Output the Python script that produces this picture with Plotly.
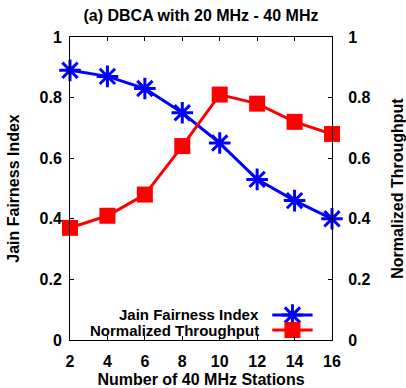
import plotly.graph_objects as go

stations = [2, 4, 6, 8, 10, 12, 14, 16]
jain = [0.89, 0.87, 0.83, 0.75, 0.65, 0.53, 0.46, 0.40]
throughput = [0.37, 0.41, 0.48, 0.64, 0.81, 0.78, 0.72, 0.68]
y_ticks = [0, 0.2, 0.4, 0.6, 0.8, 1]
y_labels = ["0", "0.2", "0.4", "0.6", "0.8", "1"]
names = ["Jain Fairness Index", "Normalized Throughput"]

BLUE = "#0000ff"
RED = "#ff0000"
FONT = "Liberation Sans"
FS = 16

fig = go.Figure()
fig.add_trace(go.Scatter(
    x=stations, y=jain, mode="lines+markers", name=names[0],
    line=dict(color=BLUE, width=3),
    marker=dict(symbol="asterisk-open", size=18, color=BLUE, line=dict(color=BLUE, width=3)),
    cliponaxis=False, showlegend=False))
fig.add_trace(go.Scatter(
    x=stations, y=throughput, mode="lines+markers", name=names[1], yaxis="y2",
    line=dict(color=RED, width=3),
    marker=dict(symbol="square", size=16, color=RED),
    cliponaxis=False, showlegend=False))

# manual legend (gnuplot style: text left, sample right)
leg_y = [0.0825, 0.033]
text_y = [0.085, 0.030]
leg_x0, leg_x1, leg_xm = 0.772, 0.926, 0.849
fig.add_shape(type="line", xref="paper", yref="paper", x0=leg_x0, x1=leg_x1, y0=leg_y[0], y1=leg_y[0],
              line=dict(color=BLUE, width=3))
fig.add_shape(type="line", xref="paper", yref="paper", x0=leg_x0, x1=leg_x1, y0=leg_y[1], y1=leg_y[1],
              line=dict(color=RED, width=3))
fig.add_trace(go.Scatter(x=[leg_xm], y=[leg_y[0]], xaxis="x3", yaxis="y3", mode="markers",
                         marker=dict(symbol="asterisk-open", size=18, color=BLUE, line=dict(color=BLUE, width=3)),
                         showlegend=False, hoverinfo="skip", cliponaxis=False))
fig.add_trace(go.Scatter(x=[leg_xm], y=[leg_y[1]], xaxis="x3", yaxis="y3", mode="markers",
                         marker=dict(symbol="square", size=16, color=RED),
                         showlegend=False, hoverinfo="skip", cliponaxis=False))
for name, yy in zip(names, text_y):
    fig.add_annotation(x=0.727, y=yy, xref="paper", yref="paper", text=name, showarrow=False,
                       xanchor="right", yanchor="middle", borderpad=0,
                       font=dict(family=FONT, size=15, color="black", weight="bold"))

tick_font = dict(family=FONT, size=FS, color="black", weight="bold")
title_font = dict(family=FONT, size=FS, color="black", weight="bold")

fig.update_layout(
    width=406, height=388,
    margin=dict(l=70, r=74, t=37, b=48),
    paper_bgcolor="white", plot_bgcolor="white",
    title=dict(text="(a) DBCA with 20 MHz - 40 MHz", x=0.495, xanchor="center", y=0.961, yanchor="middle",
               font=dict(family=FONT, size=FS, color="black", weight="bold")),
    xaxis=dict(range=[2, 16], tickvals=stations, ticks="inside", ticklen=4, tickcolor="black",
               showline=True, linecolor="black", linewidth=1, mirror="ticks", showgrid=False, zeroline=False,
               tickfont=tick_font, ticklabelstandoff=7, automargin=False,
               title=dict(text="Number of 40 MHz Stations", font=title_font, standoff=7)),
    yaxis=dict(range=[0, 1], tickvals=y_ticks, ticktext=y_labels, ticks="inside", ticklen=4, tickcolor="black",
               showline=True, linecolor="black", linewidth=1, showgrid=False, zeroline=False,
               tickfont=tick_font, ticklabelstandoff=4, automargin=False,
               title=dict(text="Jain Fairness Index", font=title_font, standoff=15)),
    yaxis2=dict(range=[0, 1], tickvals=y_ticks, ticktext=y_labels, ticks="inside", ticklen=4, tickcolor="black",
                showline=True, linecolor="black", linewidth=1, showgrid=False, zeroline=False,
                overlaying="y", side="right", tickfont=tick_font, ticklabelstandoff=12, automargin=False,
                title=dict(text="Normalized Throughput", font=title_font, standoff=22)),
    xaxis3=dict(range=[0, 1], visible=False, overlaying="x", anchor="y3", fixedrange=True),
    yaxis3=dict(range=[0, 1], visible=False, overlaying="y", anchor="x3", fixedrange=True),
)

fig.write_html("out.html")
